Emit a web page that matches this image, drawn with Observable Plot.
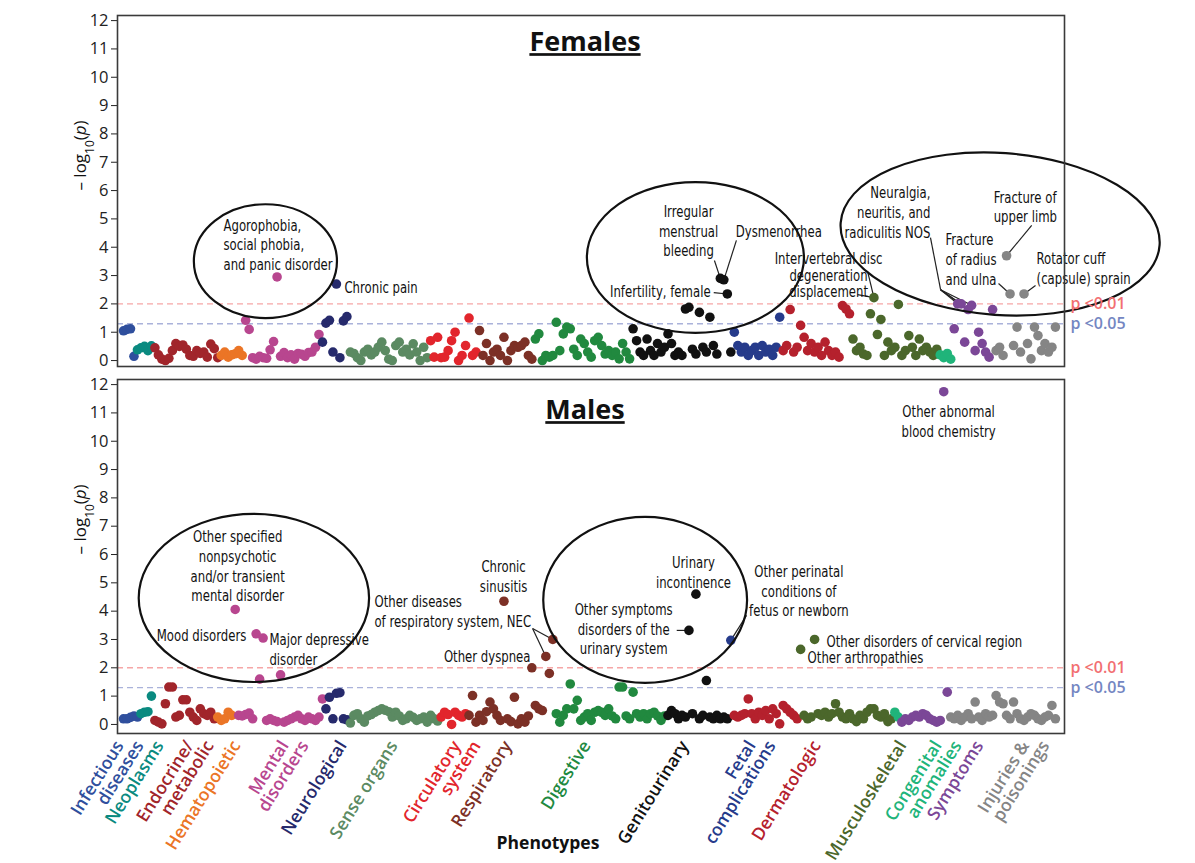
<!DOCTYPE html>
<html><head><meta charset="utf-8">
<script src="https://cdn.jsdelivr.net/npm/d3@7"></script>
<script src="https://cdn.jsdelivr.net/npm/@observablehq/plot@0.6"></script>
<style>
html,body{margin:0;padding:0;background:#fff;}
#chart{width:1195px;height:863px;position:relative;}
#chart svg{display:block;overflow:visible;}
</style></head><body><div id="chart"></div>
<script>
const categories = ["Infectious diseases","Neoplasms","Endocrine/metabolic","Hematopoietic","Mental disorders","Neurological","Sense organs","Circulatory system","Respiratory","Digestive","Genitourinary","Fetal complications","Dermatologic","Musculoskeletal","Congenital anomalies","Symptoms","Injuries & poisonings"];
const categoryColors = ["#2f4f9d","#0a8a80","#a1252b","#eb7526","#b8468f","#262a6c","#5b8a62","#e2252c","#7c3026","#21893f","#111111","#263b8b","#b5212d","#4b672b","#20b47a","#7b4797","#858585"];
const axisLabelText = ["Infectious\ndiseases","Neoplasms","Endocrine/\nmetabolic","Hematopoietic","Mental\ndisorders","Neurological","Sense organs","Circulatory\nsystem","Respiratory","Digestive","Genitourinary","Fetal\ncomplications","Dermatologic","Musculoskeletal","Congenital\nanomalies","Symptoms","Injuries &\npoisonings"];
const axisLabelPos = [-2.3,9.2,17.8,31.2,45.0,61.6,76.2,94.3,108.9,131.5,159.6,178.8,197.4,222.0,232.1,244.0,257.2];
const yTicks = [0,1,2,3,4,5,6,7,8,9,10,11,12];

const femaleValues = [
 [1.05,1.1,1.12,0.15],
 [0.38,0.45,0.5,0.35,0.52],
 [0.45,0.2,0.05,0.0,0.08,0.35,0.6,0.5,0.55,0.4,0.18,0.15,0.35,0.25,0.3,0.12,0.58,0.42,0.1],
 [0.18,0.3,0.12,0.2,0.24,0.35,0.18],
 [1.42,1.1,0.1,0.05,0.15,0.1,0.08,0.38,0.67,2.95,0.15,0.28,0.1,0.2,0.05,0.25,0.22,0.15,0.28,0.3,0.47,0.92],
 [0.65,1.32,1.42,0.3,2.7,0.1,1.4,1.55],
 [0.3,0.25,0.1,0.0,0.3,0.4,0.2,0.3,0.47,0.65,0.35,0.05,0.0,0.53,0.65,0.3,0.4,0.2,0.59,0.3,0.0,0.47,0.1],
 [0.7,0.12,0.82,0.1,0.12,0.35,0.7,1.0,0.0,0.18,0.53,1.5,0.18,0.3],
 [1.06,0.18,0.6,0.0,0.3,0.4,0.18,0.82,0.0,0.35,0.53,0.47,0.53,0.65,0.18,0.05],
 [0.76,0.94,0.0,0.18,0.12,0.18,1.35,0.35,0.94,1.18,1.12,0.4,0.18,0.76,0.6,0.3,0.12,0.7,0.82,0.53,0.23,0.35,0.18,0.3,0.06,0.6,0.3,0.06],
 [1.12,0.7,0.3,0.18,0.76,0.35,0.18,0.6,0.3,0.47,0.94,0.6,0.18,0.3,0.18,1.82,1.88,0.4,0.23,1.7,0.47,0.3,1.53,0.53,0.23,2.9,2.85,2.35,0.3],
 [1.0,0.53,0.3,0.47,0.18,0.35,0.47,0.18,0.53,0.3,0.4,0.18,0.47,1.53],
 [0.35,0.53,1.8,0.3,0.47,1.24,0.82,0.35,0.6,0.3,0.47,0.18,0.65,0.35,0.18,0.3,0.12,1.94,1.82,1.65],
 [0.76,0.35,0.47,0.23,0.18,1.65,2.22,0.92,1.45,0.18,0.65,0.35,0.47,1.98,0.18,0.35,0.88,0.47,0.18,0.76,0.35,0.47,0.3,0.18,0.4],
 [0.2,0.1,0.25,0.05],
 [1.12,2.0,2.0,0.65,1.8,1.95,0.35,1.0,0.6,0.3,0.12,1.8],
 [0.35,0.47,0.18,3.7,2.35,0.53,1.18,0.3,2.35,0.6,0.06,1.18,0.88,0.35,0.6,0.3,0.47,1.18]
];
const maleValues = [
 [0.2,0.2,0.25,0.3,0.26],
 [0.38,0.43,0.45,1.0],
 [0.14,0.08,0.02,0.73,1.32,1.32,0.26,0.32,0.87,0.87,0.43,0.26,0.14,0.55,0.38,0.32,0.43,0.2],
 [0.26,0.14,0.2,0.43,0.32],
 [4.06,0.32,0.3,0.35,0.4,0.2,3.2,1.6,3.05,0.14,0.2,0.14,0.1,1.75,0.08,0.14,0.2,0.26,0.32,0.2,0.14,0.26,0.2,0.14,0.26,0.9],
 [0.55,0.96,0.2,1.1,1.12,0.2,0.16],
 [0.05,0.32,0.38,0.2,0.08,0.3,0.35,0.43,0.49,0.55,0.5,0.45,0.26,0.43,0.3,0.14,0.2,0.32,0.25,0.14,0.2,0.26,0.08,0.32,0.2,0.12],
 [0.26,0.43,0.35,0.0,0.43,0.32,0.26,0.38],
 [0.32,1.02,0.08,0.32,0.14,0.45,0.79,0.55,0.32,0.14,4.35,0.2,0.1,0.96,0.02,0.2,0.08,0.3,2.0,0.67,0.55,0.49,2.4,1.8,3.0],
 [0.38,0.08,0.32,0.55,1.43,0.55,0.85,0.14,0.26,0.38,0.14,0.43,0.49,0.43,0.32,0.55,0.3,0.2,1.32,1.32,0.3,0.2,1.14,0.38,0.26,0.38,0.2,0.38,0.43,0.3,0.14,0.3],
 [0.32,0.49,0.38,0.2,0.32,0.26,3.32,0.38,4.6,0.2,0.32,1.55,0.26,0.2,0.32,0.2,0.26,0.2],
 [2.97],
 [0.32,0.26,0.32,0.38,0.9,0.38,0.2,0.43,0.32,0.49,0.2,0.55,0.38,0.02,0.67,0.55,0.43,0.32,0.2],
 [2.65,0.32,0.2,0.26,3.0,0.38,0.32,0.43,0.26,0.38,0.73,0.43,0.26,0.2,0.38,0.2,0.1,0.32,0.2,0.43,0.55,0.55,0.32,0.26,0.38,0.1,0.2],
 [0.43,0.26],
 [0.08,0.2,0.14,0.26,0.32,0.26,0.38,0.32,0.2,0.14,0.08,0.14,11.75,1.14],
 [0.26,0.2,0.32,0.14,0.26,0.38,0.2,0.79,0.26,0.14,0.38,0.26,0.32,1.02,0.79,0.73,0.32,0.2,0.79,0.38,0.2,0.14,0.26,0.38,0.32,0.2,0.14,0.26,0.32,0.67,0.2]
];

const femaleNotes = [
 {x:28.65,y:4.11,text:"Agorophobia,\nsocial phobia,\nand panic disorder",anchor:"start"},
 {x:63.3,y:2.61,text:"Chronic pain",anchor:"start"},
 {x:161.9,y:4.6,text:"Irregular\nmenstrual\nbleeding",anchor:"middle"},
 {x:175.4,y:4.59,text:"Dysmenorrhea",anchor:"start"},
 {x:168.2,y:2.47,text:"Infertility, female",anchor:"end"},
 {x:202,y:3.01,text:"Intervertebral disc\ndegeneration\ndisplacement",anchor:"middle",lh:1.07},
 {x:231.2,y:5.26,text:"Neuralgia,\nneuritis, and\nradiculitis NOS",anchor:"end"},
 {x:235.5,y:3.6,text:"Fracture\nof radius\nand ulna",anchor:"start"},
 {x:249.3,y:5.45,text:"Fracture of\nupper limb",anchor:"start"},
 {x:261.6,y:3.28,text:"Rotator cuff\n(capsule) sprain",anchor:"start"}
];
const maleNotes = [
 {x:236.4,y:10.73,text:"Other abnormal\nblood chemistry",anchor:"middle"},
 {x:32.7,y:5.61,text:"Other specified\nnonpsychotic\nand/or transient\nmental disorder",anchor:"middle"},
 {x:35.2,y:3.18,text:"Mood disorders",anchor:"end"},
 {x:41.8,y:2.68,text:"Major depressive\ndisorder",anchor:"start"},
 {x:71.9,y:4.02,text:"Other diseases\nof respiratory system, NEC",anchor:"start"},
 {x:108.9,y:5.26,text:"Chronic\nsinusitis",anchor:"middle"},
 {x:116.6,y:2.44,text:"Other dyspnea",anchor:"end"},
 {x:163.3,y:5.4,text:"Urinary\nincontinence",anchor:"middle"},
 {x:143.3,y:3.39,text:"Other symptoms\ndisorders of the\nurinary system",anchor:"middle"},
 {x:193.5,y:4.73,text:"Other perinatal\nconditions of\nfetus or newborn",anchor:"middle"},
 {x:201.4,y:2.97,text:"Other disorders of cervical region",anchor:"start"},
 {x:196,y:2.4,text:"Other arthropathies",anchor:"start"}
];
const femaleEllipses = [{cx:40.8,cy:3.49,rx:20.5,ry:2.01},{cx:164.0,cy:3.62,rx:31.1,ry:2.66},{cx:251.3,cy:4.45,rx:45.8,ry:2.86,rot:4}];
const maleEllipses = [{cx:37.5,cy:4.45,rx:33,ry:2.97},{cx:149.6,cy:4.38,rx:29.2,ry:2.93}];
const femaleLeaders = [
 {from:[169.3,3.53],to:[10,25]},{from:[175.6,4.24],to:[10,26]},{from:[169.1,2.4],to:[10,27]},
 {from:[210.3,2.33],to:[13,6]},{from:[213.2,3.14],to:[13,6]},
 {from:[231.2,4.34],toXY:[234.1,2.5]},
 {from:[234.1,2.5],to:[15,1]},{from:[234.1,2.5],to:[15,2]},{from:[234.1,2.5],to:[15,4]},{from:[234.1,2.5],to:[15,5]},
 {from:[250.7,2.72],to:[16,4]},{from:[260.2,4.77],to:[16,3]},{from:[261.3,2.65],to:[16,8]}
];
const maleLeaders = [
 {from:[117.2,3.39],to:[8,24]},{from:[117.2,3.39],to:[8,22]},
 {from:[158.5,3.32],to:[10,6]},{from:[178.5,3.85],to:[11,0]}
];

function hasFont(name){
  const c=document.createElement("canvas").getContext("2d");
  const s="Other disorders of cervical region";
  c.font="20px monospace"; const a=c.measureText(s).width;
  c.font=`20px "${name}", monospace`; const b=c.measureText(s).width;
  return Math.abs(a-b)>0.5;
}
let ANNOT_FONT='Roboto, sans-serif', ANNOT_SIZE=16, ANNOT_SCALE=0.81;
if(hasFont("Liberation Sans Narrow")){ANNOT_FONT='Liberation Sans Narrow, sans-serif'; ANNOT_SIZE=17.5; ANNOT_SCALE=0.94;}
else if(hasFont("DejaVu Sans Condensed")){ANNOT_FONT='DejaVu Sans Condensed, sans-serif'; ANNOT_SIZE=15.5; ANNOT_SCALE=0.84;}
const ANNOT_LH = 19.7/ANNOT_SIZE;

function buildRows(values){
  const rows=[], starts=[]; let i=0;
  values.forEach((arr,c)=>{starts.push(i); arr.forEach((v,k)=>rows.push({i:i++,cat:categories[c],c,k,v}));});
  return {rows,starts};
}
const F=buildRows(femaleValues), M=buildRows(maleValues);

function leaderLinks(leaders, rows){
  return leaders.map(l=>{
    let x2,y2;
    if(l.toXY){[x2,y2]=l.toXY;} else {const p=rows.find(r=>r.c===l.to[0]&&r.k===l.to[1]); x2=p.i; y2=p.v;}
    return {x1:l.from[0],y1:l.from[1],x2,y2};
  });
}
function ellipseMark(list){
  return (index, scales) => {
    const sx = typeof scales.x==="function"?scales.x:(v=>scales.scales.x.apply(v));
    const sy = typeof scales.y==="function"?scales.y:(v=>scales.scales.y.apply(v));
    const g=d3.create("svg:g");
    for(const e of list){
      const cx=sx(e.cx), cy=sy(e.cy);
      const rx=Math.abs(sx(e.cx+e.rx)-cx), ry=Math.abs(sy(e.cy+e.ry)-cy);
      g.append("ellipse").attr("cx",cx).attr("cy",cy).attr("rx",rx).attr("ry",ry)
        .attr("fill","none").attr("stroke","#111").attr("stroke-width",2.2)
        .attr("transform",e.rot?`rotate(${e.rot},${cx},${cy})`:null);
    }
    return g.node();
  };
}
function noteMarks(notes){
  return notes.map(n=>Plot.text([n],{x:"x",y:"y",text:"text",textAnchor:n.anchor,lineHeight:(n.lh||ANNOT_LH),fontSize:ANNOT_SIZE,fontFamily:ANNOT_FONT,fill:"#111"}));
}
const xDomain=[-1.72,269.6];
const YLAB="– log10(p)";

function panel({data, title, titleDy, yDomain, height, marginTop, marginBottom, notes, ellipses, leaders, extra}){
  return Plot.plot({
    width:1195, height, marginLeft:117, marginRight:131, marginTop, marginBottom,
    style:{fontFamily:"Open Sans",fontSize:"16.5px",color:"#222",background:"transparent",overflow:"visible"},
    x:{domain:xDomain,axis:null},
    y:{domain:yDomain,ticks:yTicks,tickSize:6,tickPadding:3,label:null},
    color:{domain:categories,range:categoryColors},
    marks:[
      Plot.ruleY([2],{stroke:"#f6a6a6",strokeDasharray:"6,4",strokeWidth:1.4}),
      Plot.ruleY([1.3],{stroke:"#aab2da",strokeDasharray:"6,4",strokeWidth:1.4}),
      Plot.link(leaderLinks(leaders,data.rows),{x1:"x1",y1:"y1",x2:"x2",y2:"y2",stroke:"#222",strokeWidth:1.2}),
      Plot.dot(data.rows,{x:"i",y:"v",fill:"cat",r:4.8}),
      ellipseMark(ellipses),
      ...noteMarks(notes),
      Plot.text([title],{text:d=>d,frameAnchor:"top",lineAnchor:"middle",dy:titleDy,dx:-6,fontSize:27,fontWeight:700,fontFamily:"Open Sans",fill:"#111"}),
      Plot.text([6],{y:d=>d,text:()=>YLAB,frameAnchor:"left",rotate:-90,dx:-37,fontSize:17,fontFamily:"Open Sans",fill:"#111"}),
      Plot.text([2],{y:d=>d,text:()=>"p <0.01",frameAnchor:"right",textAnchor:"start",dx:6,fontSize:16,fontWeight:600,fill:"#f26f72"}),
      Plot.text([1.3],{y:d=>d,text:()=>"p <0.05",frameAnchor:"right",textAnchor:"start",dx:6,fontSize:16,fontWeight:600,fill:"#7486c2"}),
      ...(extra||[]),
      Plot.frame({stroke:"#3a3a3a",strokeWidth:1.6})
    ]
  });
}

const labelMarks = categories.flatMap((cat,c)=>
  axisLabelText[c].split("\n").map((line,j)=>
    Plot.text([{cat,x:axisLabelPos[c],t:line}],{x:"x",text:"t",fill:"cat",frameAnchor:"bottom",lineAnchor:"middle",rotate:-58,textAnchor:"end",dy:9,dx:4+j*20,fontSize:17.5,fontWeight:600,fontFamily:"Open Sans"})
  )
);
labelMarks.push(Plot.text(["Phenotypes"],{text:d=>d,frameAnchor:"bottom",lineAnchor:"middle",dy:110,dx:-43,fontSize:17.5,fontWeight:700,fontFamily:"Open Sans",fill:"#111"}));

const topPlot=panel({data:F,title:"Females",titleDy:27,yDomain:[-0.21,12.18],height:372,marginTop:15,marginBottom:6,notes:femaleNotes,ellipses:femaleEllipses,leaders:femaleLeaders});
const bottomPlot=panel({data:M,title:"Males",titleDy:31,yDomain:[-0.32,12.18],height:491,marginTop:7,marginBottom:130,notes:maleNotes,ellipses:maleEllipses,leaders:maleLeaders,extra:labelMarks});

const NS="http://www.w3.org/2000/svg";
for(const svg of [topPlot,bottomPlot]){
  svg.querySelectorAll("text").forEach(t=>{
    const s=t.textContent;
    if(s==="Females"||s==="Males"){t.setAttribute("text-decoration","underline");}
    if(s===YLAB){
      while(t.firstChild) t.removeChild(t.firstChild);
      const parts=[["– log",{}],["10",{"baseline-shift":"sub","font-size":"70%"}],["(",{}],["p",{"font-style":"italic"}],[")",{}]];
      for(const [txt,attrs] of parts){const sp=document.createElementNS(NS,"tspan"); sp.textContent=txt; for(const k in attrs) sp.setAttribute(k,attrs[k]); t.appendChild(sp);}
    }
  });
  svg.querySelectorAll("g").forEach(g=>{
    if(g.getAttribute("font-family")!==ANNOT_FONT) return;
    g.querySelectorAll("text").forEach(t=>{
      let tr=t.getAttribute("transform");
      if(!tr){
        const x=+(t.getAttribute("x")||0), y=+(t.getAttribute("y")||0);
        t.removeAttribute("x"); t.removeAttribute("y");
        tr=`translate(${x},${y})`;
      }
      t.setAttribute("transform",tr+` scale(${ANNOT_SCALE},1)`);
    });
  });
}
const chart=document.getElementById("chart");
chart.appendChild(topPlot); chart.appendChild(bottomPlot);
</script></body></html>
